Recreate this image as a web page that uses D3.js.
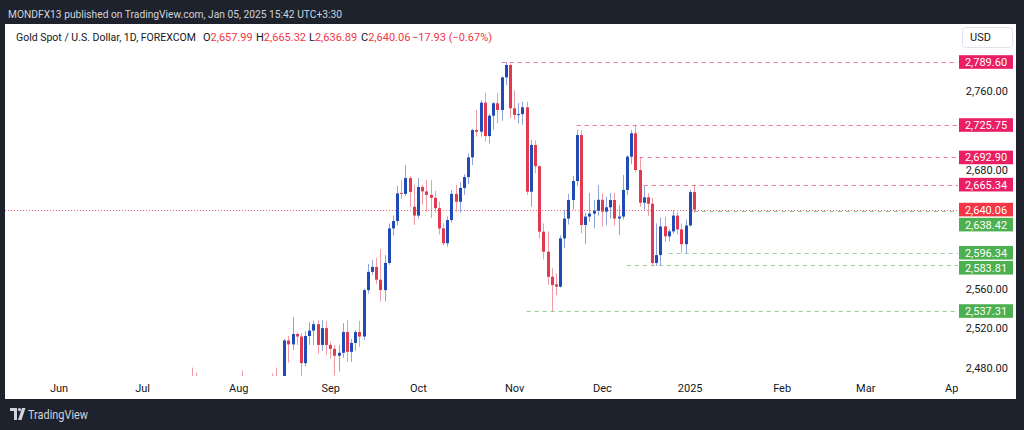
<!DOCTYPE html>
<html><head><meta charset="utf-8">
<script src="https://cdn.jsdelivr.net/npm/d3@7"></script>
<style>
html,body{margin:0;padding:0;background:#1e222d;}
svg{display:block;font-family:Roboto,"Open Sans",sans-serif;}
</style>
</head><body>
<svg id="c" width="1024" height="430"></svg>
<script>
// ---------------- data ----------------
const dates = ["2024-07-17","2024-07-18","2024-07-19","2024-07-22","2024-07-23","2024-07-24","2024-07-25","2024-07-26","2024-07-29","2024-07-30","2024-07-31",
"2024-08-01","2024-08-02","2024-08-05","2024-08-06","2024-08-07","2024-08-08","2024-08-09","2024-08-12","2024-08-13","2024-08-14","2024-08-15","2024-08-16","2024-08-19","2024-08-20","2024-08-21","2024-08-22","2024-08-23","2024-08-26","2024-08-27","2024-08-28","2024-08-29","2024-08-30",
"2024-09-02","2024-09-03","2024-09-04","2024-09-05","2024-09-06","2024-09-09","2024-09-10","2024-09-11","2024-09-12","2024-09-13","2024-09-16","2024-09-17","2024-09-18","2024-09-19","2024-09-20","2024-09-23","2024-09-24","2024-09-25","2024-09-26","2024-09-27","2024-09-30",
"2024-10-01","2024-10-02","2024-10-03","2024-10-04","2024-10-07","2024-10-08","2024-10-09","2024-10-10","2024-10-11","2024-10-14","2024-10-15","2024-10-16","2024-10-17","2024-10-18","2024-10-21","2024-10-22","2024-10-23","2024-10-24","2024-10-25","2024-10-28","2024-10-29","2024-10-30","2024-10-31",
"2024-11-01","2024-11-04","2024-11-05","2024-11-06","2024-11-07","2024-11-08","2024-11-11","2024-11-12","2024-11-13","2024-11-14","2024-11-15","2024-11-18","2024-11-19","2024-11-20","2024-11-21","2024-11-22","2024-11-25","2024-11-26","2024-11-27","2024-11-28","2024-11-29",
"2024-12-02","2024-12-03","2024-12-04","2024-12-05","2024-12-06","2024-12-09","2024-12-10","2024-12-11","2024-12-12","2024-12-13","2024-12-16","2024-12-17","2024-12-18","2024-12-19","2024-12-20","2024-12-23","2024-12-24","2024-12-26","2024-12-27","2024-12-30","2024-12-31",
"2025-01-02","2025-01-03"];
const opens = [2469,2458,2445,2400,2396,2409,2398,2365,2387,2384,2410,
2447,2446,2442,2409,2390,2382,2427,2431,2466,2465,2447,2456,2507.5,2503.5,2514,2511.5,2484.5,2512,2517.5,2524,2503,2520,
2503,2499,2492,2495,2516,2496,2505,2516,2511.5,2558.5,2577,2582,2569,2558.5,2586,2621,2628.5,2657,2656,2672,2643,
2634,2663,2658.5,2655,2652,2641.5,2621,2606,2629.5,2656,2648,2662,2673,2693,2720.7,2719,2748.4,2714.6,2735.2,2747.8,2741,2774,2786.6,
2742.7,2736,2736.8,2743.7,2658.2,2705.5,2684,2617.7,2597.4,2572,2564.4,2562,2610.9,2631,2649.8,2669,2715.6,2624.5,2633,2636,2639,
2650,2638,2642.4,2649.8,2631,2633,2660,2693.7,2717.4,2680.2,2647,2652.5,2646,2586,2594,2623,2613,2618,2634,2620,2605,
2624,2657.99];
const highs = [2480,2475,2449,2412,2415,2431,2399,2390,2392,2412,2451,
2463,2477,2461,2419,2401,2429,2437,2468,2474,2480,2464,2509,2512,2531,2516,2515,2517,2526,2527.5,2528,2528,2527,
2506,2503,2503,2525,2528,2509,2518,2527.5,2560,2585,2589,2591,2600,2594,2626,2634,2664,2670,2685,2674,2665,
2672,2665,2670,2670,2659,2648,2626,2633,2660,2665,2668,2676,2697,2722,2741,2751,2758.5,2737,2749,2758,2775,2789.6,2788,
2761,2748,2749.4,2749.4,2710.6,2710,2685,2626,2617.7,2580.6,2575.5,2614,2639.7,2656,2674,2721,2720.7,2637,2657,2649.8,2665,
2656.6,2653,2657,2657,2644.7,2675,2695,2720.7,2725.75,2692.9,2664,2656.6,2652,2626,2632,2632.8,2620,2639.7,2637,2626,2630,
2660,2665.32];
const lows = [2456,2441,2393,2384,2382,2400,2353,2365,2370,2379,2405,
2432,2410,2364,2385,2381,2381,2419,2425,2456,2440,2431,2454,2485,2498,2503,2471,2481,2503,2503,2494,2497,2493,
2489,2472,2476,2490,2486,2486,2497,2501,2508,2555,2574,2565,2547,2547,2584,2614,2624,2651,2654,2642.5,2624.5,
2631,2645,2638,2631.5,2637,2615,2604,2602.5,2627,2638,2637,2655,2666,2685,2714,2714,2709,2707,2721,2727.5,2730,2766,2732.6,
2731,2727.5,2726,2654.8,2643,2677,2611,2589.7,2564,2537.31,2553.5,2561,2601,2625,2640,2664,2616,2605,2627.8,2621,2634,
2622.8,2624.5,2631,2624,2614.3,2630,2655,2686,2678,2643,2640,2633.6,2583.81,2583,2584,2607.5,2608,2616,2615,2596.34,2596,
2623,2636.89];
const closes = [2458,2445,2400,2396,2409,2398,2365,2387,2384,2410,2447,
2446,2442,2409,2390,2382,2427,2431,2466,2465,2447,2456,2507.5,2503.5,2514,2511.5,2484.5,2512,2517.5,2524,2503,2520,2503,
2499,2492,2495,2516,2496,2505,2516,2511.5,2558.5,2577,2582,2569,2558.5,2586,2621,2628.5,2656.5,2656,2672,2658,2634,
2663,2658.5,2655,2652,2641.5,2621,2606,2629.5,2656,2648,2662,2673,2693,2720.7,2719,2748.4,2714.6,2735.2,2747.8,2741,2774,2786.6,2742.7,
2736,2736.8,2743.7,2658.2,2705.5,2684,2617.7,2597.4,2572,2563.7,2562,2610.9,2631,2649.8,2669,2715.6,2624.5,2633,2636,2639,2650,
2638,2642.4,2649.8,2631,2633,2660,2693.7,2717.4,2680.2,2647,2652.5,2646,2586,2594,2623,2613,2618,2634,2620,2605,2624,
2657.8,2640.06];

const monthLabels = ["Jun","Jul","Aug","Sep","Oct","Nov","Dec","2025","Feb","Mar","Apr"];
const monthStarts = ["2024-06-03","2024-07-01","2024-08-01","2024-09-02","2024-10-01","2024-11-01","2024-12-02","2025-01-02","2025-02-03","2025-03-03","2025-04-01"];
const priceTicks = [2480,2520,2560,2600,2640,2680,2720,2760,2800];

const levelValues = [2789.60,2725.75,2692.90,2665.34,2638.42,2596.34,2583.81,2537.31];
const levelStarts = ["2024-10-29","2024-11-22","2024-12-13","2024-12-16","2025-01-03","2024-12-24","2024-12-10","2024-11-06"];
const levelSides  = ["up","up","up","up","down","down","down","down"];
const lastPrice = 2640.06;

const holidays = ["2024-12-25","2025-01-01"];
const seriesStart = "2024-06-03";

// ---------------- helpers ----------------
function barIndex(s){
  const d = new Date(seriesStart+"T00:00:00Z");
  const t = new Date(s+"T00:00:00Z");
  let n = 0;
  while (d < t){
    const wd = d.getUTCDay(), iso = d.toISOString().slice(0,10);
    if (wd!==0 && wd!==6 && !holidays.includes(iso)) n++;
    d.setUTCDate(d.getUTCDate()+1);
  }
  return n;
}

const W=1024,H=430;
const svg = d3.select("#c");
const BG="#1e222d";
const panel={x:5,y:24,w:1011,h:375};
const plotRight=958, plotBottom=376;

const x = d3.scaleLinear().domain([0,214]).range([58.5,58.5+214*4.18]);
const y = d3.scaleLinear().domain([2480,2789.6]).range([367.6,62]);

svg.append("rect").attr("width",W).attr("height",H).attr("fill",BG);
svg.append("rect").attr("x",panel.x).attr("y",panel.y).attr("width",panel.w).attr("height",panel.h).attr("fill","#ffffff");

// header
svg.append("text").attr("x",8).attr("y",17.5).attr("fill","#d1d4dc").attr("font-size",11.5)
  .attr("textLength",334).attr("lengthAdjust","spacingAndGlyphs")
  .text("MONDFX13 published on TradingView.com, Jan 05, 2025 15:42 UTC+3:30");

// legend
const lg = svg.append("text").attr("y",40.5).attr("font-size",11);
const RED="#f23645";
lg.append("tspan").attr("x",16).attr("fill","#131722").attr("textLength",180).attr("lengthAdjust","spacingAndGlyphs").text("Gold Spot / U.S. Dollar, 1D, FOREXCOM");
const legendParts=[["O","2,657.99",203],["H","2,665.32",256],["L","2,636.89",309],["C","2,640.06",361]];
legendParts.forEach(p=>{
  lg.append("tspan").attr("x",p[2]).attr("fill","#131722").text(p[0]);
  lg.append("tspan").attr("fill",RED).text(p[1]);
});
lg.append("tspan").attr("x",412).attr("fill",RED).text("\u221217.93 (\u22120.67%)");

// clip
const defs=svg.append("defs");
defs.append("clipPath").attr("id","plot").append("rect").attr("x",panel.x).attr("y",panel.y).attr("width",plotRight-panel.x).attr("height",plotBottom-panel.y);
defs.append("clipPath").attr("id","taxis").append("rect").attr("x",panel.x).attr("y",plotBottom).attr("width",plotRight-panel.x).attr("height",panel.y+panel.h-plotBottom);

const g = svg.append("g").attr("clip-path","url(#plot)");

// current price dotted line
g.append("line").attr("x1",panel.x).attr("x2",plotRight).attr("y1",Math.round(y(lastPrice))+0.5).attr("y2",Math.round(y(lastPrice))+0.5)
  .attr("stroke",RED).attr("stroke-width",1).attr("stroke-dasharray","1,2").attr("opacity",0.75);

// level lines
const UPC="#e91e63", DNC="#4caf50";
levelValues.forEach((v,i)=>{
  const yy=Math.round(y(v))+0.5;
  g.append("line").attr("x1",x(barIndex(levelStarts[i]))).attr("x2",plotRight).attr("y1",yy).attr("y2",yy)
   .attr("stroke",levelSides[i]==="up"?UPC:DNC).attr("stroke-width",1).attr("stroke-dasharray","4,4").attr("opacity",0.6);
});

// candles
const BLUE="#1f4bb6", REDC="#e13a50";
dates.forEach((d,i)=>{
  const cx=Math.round(x(barIndex(d)));
  const up=closes[i]>=opens[i];
  const col=up?BLUE:REDC;
  g.append("line").attr("x1",cx+0.5).attr("x2",cx+0.5).attr("y1",y(highs[i])).attr("y2",y(lows[i]))
    .attr("stroke",col).attr("stroke-width",1).attr("opacity",0.5);
  const y1=y(Math.max(opens[i],closes[i])), y2=y(Math.min(opens[i],closes[i]));
  g.append("rect").attr("x",cx-1).attr("width",3).attr("y",y1).attr("height",Math.max(1,y2-y1)).attr("fill",col);
});

// price labels (boxes) – positions computed first so that covered ticks are hidden
const boxes=[{v:lastPrice,c:RED,pri:0}];
levelValues.forEach((v,i)=>boxes.push({v:v,c:levelSides[i]==="up"?UPC:DNC,pri:1}));
boxes.sort((a,b)=>d3.ascending(y(a.v),y(b.v))||a.pri-b.pri);
let prevBottom=-1e9;
boxes.forEach(b=>{
  let cy=y(b.v);
  if (cy-7 < prevBottom+1) cy=prevBottom+1+7;
  prevBottom=cy+7;
  b.cy=cy;
});
const visibleTicks = priceTicks.filter(t=>boxes.every(b=>Math.abs(y(t)-b.cy)>11.5));

// price axis
const pa = svg.append("g").attr("transform","translate(1008,0)")
  .call(d3.axisLeft(y).tickValues(visibleTicks).tickSize(0).tickPadding(0).tickFormat(d3.format(",.2f")));
pa.select(".domain").remove();
pa.selectAll("text").attr("fill","#131722").attr("font-size",11).attr("font-family","Roboto,sans-serif");

// time axis
const ta = svg.append("g").attr("clip-path","url(#taxis)").append("g").attr("transform","translate(0,384)")
  .call(d3.axisBottom(x).tickValues(monthStarts.map(barIndex)).tickSize(0).tickPadding(0).tickFormat((d,i)=>monthLabels[i]));
ta.select(".domain").remove();
ta.selectAll("text").attr("fill","#131722").attr("font-size",11).attr("font-family","Roboto,sans-serif");

const bl = svg.append("g");
boxes.forEach(b=>{
  bl.append("rect").attr("x",959).attr("y",b.cy-6.8).attr("width",54).attr("height",13.6).attr("fill",b.c);
  bl.append("text").attr("x",986).attr("y",b.cy).attr("dy","0.36em").attr("text-anchor","middle")
    .attr("fill","#ffffff").attr("font-size",11).text(d3.format(",.2f")(b.v));
});

// USD box
svg.append("rect").attr("x",962.5).attr("y",27.5).attr("width",50).attr("height",20).attr("rx",3)
  .attr("fill","#ffffff").attr("stroke","#e0e3eb");
svg.append("text").attr("x",970).attr("y",41).attr("fill","#131722").attr("font-size",11).text("USD");

// footer logo
const lgo=svg.append("g").attr("transform","translate(10,408)").attr("fill","#d1d4dc");
lgo.append("path").attr("d","M0,0H7V12H4V3H0Z");
lgo.append("circle").attr("cx",9.5).attr("cy",1.6).attr("r",1.6);
lgo.append("path").attr("d","M12,0H15.5L11.5,12H8Z");
svg.append("text").attr("x",28).attr("y",419).attr("fill","#d1d4dc").attr("font-size",12.5).attr("textLength",60).attr("lengthAdjust","spacingAndGlyphs").text("TradingView");
</script>
</body></html>
